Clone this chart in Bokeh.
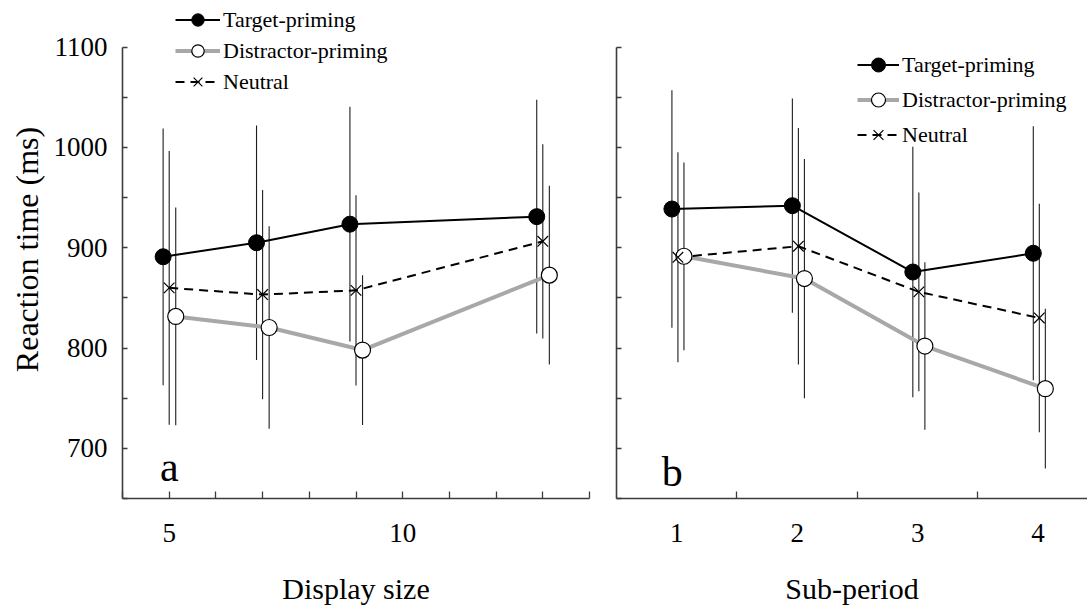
import numpy as np
from bokeh.plotting import figure
from bokeh.models import (FixedTicker, Legend, LegendItem, Label, ColumnDataSource, Range1d, Title)
from bokeh.layouts import row
from bokeh.embed import file_html
from bokeh.resources import INLINE

# ---------------- data ----------------
display_sizes = [5, 7, 9, 13]
target_a = [891, 905, 923.5, 931]
target_a_err = [128, 117, 117, 116.5]
distractor_a = [831.5, 820.5, 798, 872.7]
distractor_a_err = [108.5, 101, 74.7, 89]
neutral_a = [860, 853.3, 857.5, 906.4]
neutral_a_err = [136.5, 104.3, 94.8, 96.8]

sub_periods = [1, 2, 3, 4]
target_b = [938.6, 941.9, 875.8, 894.5]
target_b_err = [118.4, 106.8, 124.8, 126.7]
distractor_b = [891.5, 869.3, 802, 759.5]
distractor_b_err = [93.6, 119.3, 83.5, 79.7]
neutral_b = [890.5, 901.5, 856, 830]
neutral_b_err = [104.7, 117.8, 99, 113.9]

series_names = ["Target-priming", "Distractor-priming", "Neutral"]
y_ticks = [700, 800, 900, 1000, 1100]
y_minor_ticks = [650, 750, 850, 950, 1050]
x_ticks_a = [5, 10]
x_minor_a = [4, 6, 7, 8, 9, 11, 12, 13, 14]
x_ticks_b = [1, 2, 3, 4]
x_minor_b = [1.5, 2.5, 3.5]

SERIF = "Liberation Serif"
AXIS_COLOR = "#3c3c3c"
GRAY = "#a8a8a8"
Y_BOUNDS = (650, 1100)
Y_VIEW = (650, 1146.5)   # extra room above the axis for the legend


def style_axes(p, show_ylabels):
    p.grid.visible = False
    p.outline_line_color = None
    for ax in (p.xaxis[0], p.yaxis[0]):
        ax.axis_line_color = AXIS_COLOR
        ax.axis_line_width = 1.6
        ax.major_tick_line_color = AXIS_COLOR
        ax.minor_tick_line_color = AXIS_COLOR
        ax.major_tick_line_width = 1.3
        ax.minor_tick_line_width = 1.3
        ax.major_tick_out = 0
        ax.minor_tick_out = 0
        ax.major_label_text_font = SERIF
        ax.major_label_text_font_size = "27px"
        ax.major_label_text_color = "black"
        ax.axis_label_text_font = SERIF
        ax.axis_label_text_font_size = "30px"
        ax.axis_label_text_font_style = "normal"
        ax.axis_label_text_color = "black"
    y = p.yaxis[0]
    y.bounds = Y_BOUNDS
    y.major_tick_in = 5
    y.minor_tick_in = 5
    if show_ylabels:
        y.ticker = FixedTicker(ticks=y_ticks, minor_ticks=y_minor_ticks)
        y.major_label_standoff = 15
    else:
        y.ticker = FixedTicker(ticks=[], minor_ticks=sorted(y_ticks + y_minor_ticks))
        y.major_label_standoff = 0
    x = p.xaxis[0]
    x.major_label_standoff = 25
    x.axis_label_standoff = 27


def draw_series(p, xs, means, errs, offsets):
    srcs = []
    for m, e, off in zip(means, errs, offsets):
        m = np.array(m, dtype=float)
        e = np.array(e, dtype=float)
        src = ColumnDataSource(dict(x=np.array(xs, dtype=float) + off, y=m, lo=m - e, hi=m + e))
        srcs.append(src)
    for src in srcs:
        p.segment(x0="x", y0="lo", x1="x", y1="hi", source=src, line_color="#1e1e1e", line_width=1.1)
    lt = p.line("x", "y", source=srcs[0], line_color="black", line_width=2)
    ld = p.line("x", "y", source=srcs[1], line_color=GRAY, line_width=4)
    ln = p.line("x", "y", source=srcs[2], line_color="black", line_width=2, line_dash="9 6")
    md = p.scatter("x", "y", source=srcs[1], marker="circle", size=16, fill_color="white",
                   line_color="black", line_width=1.2)
    mn = p.scatter("x", "y", source=srcs[2], marker="x", size=15, line_color="black", line_width=1.2)
    mt = p.scatter("x", "y", source=srcs[0], marker="circle", size=16, fill_color="black",
                   line_color="black", line_width=1)
    return [[lt, mt], [ld, md], [ln, mn]]


def add_legend(p, groups, loc, gw, gh, fs):
    items = [LegendItem(label=name, renderers=g) for name, g in zip(series_names, groups)]
    leg = Legend(items=items, location=loc, orientation="vertical",
                 glyph_width=gw, glyph_height=gh, label_height=gh, spacing=0,
                 padding=0, margin=0, label_standoff=3,
                 border_line_color=None, background_fill_alpha=0,
                 label_text_font=SERIF, label_text_font_size=fs, label_text_color="black")
    p.add_layout(leg)


# ---------------- panel a ----------------
p1 = figure(width=600, height=607, output_backend="svg", toolbar_location=None,
            x_range=Range1d(4, 14), y_range=Range1d(*Y_VIEW),
            min_border_left=122, min_border_right=11, min_border_top=0, min_border_bottom=108)
style_axes(p1, True)
p1.xaxis[0].ticker = FixedTicker(ticks=x_ticks_a, minor_ticks=x_minor_a)
p1.xaxis[0].major_tick_in = 7
p1.xaxis[0].minor_tick_in = 7
p1.xaxis[0].axis_label = "Display size"
g1 = draw_series(p1, display_sizes, [target_a, distractor_a, neutral_a],
                 [target_a_err, distractor_a_err, neutral_a_err], [-0.13, 0.14, 0.0])
add_legend(p1, g1, (53, 401), 45, 31, "22px")
p1.add_layout(Label(x=5, y=681, text="a", text_font=SERIF, text_font_size="42px",
                    text_color="black", text_align="center", text_baseline="alphabetic"))
p1.add_layout(Title(text="Reaction time (ms)", text_font=SERIF, text_font_size="32px",
                    text_font_style="normal", text_color="black", align="center",
                    standoff=12, offset=0), "left")

# ---------------- panel b ----------------
p2 = figure(width=487, height=607, output_backend="svg", toolbar_location=None,
            x_range=Range1d(0.5, 4.41), y_range=Range1d(*Y_VIEW),
            min_border_left=16, min_border_right=0, min_border_top=0, min_border_bottom=108)
style_axes(p2, False)
p2.xaxis[0].ticker = FixedTicker(ticks=x_ticks_b, minor_ticks=x_minor_b)
p2.xaxis[0].major_tick_in = 0
p2.xaxis[0].minor_tick_in = 7
p2.xaxis[0].axis_label = "Sub-period"
g2 = draw_series(p2, sub_periods, [target_b, distractor_b, neutral_b],
                 [target_b_err, distractor_b_err, neutral_b_err], [-0.04, 0.06, 0.01])
add_legend(p2, g2, (241, 346), 42, 35, "22px")
p2.add_layout(Label(x=0.962, y=676, text="b", text_font=SERIF, text_font_size="42px",
                    text_color="black", text_align="center", text_baseline="alphabetic"))

layout = row(p1, p2)
open("out.html", "w").write(file_html(layout, INLINE))
